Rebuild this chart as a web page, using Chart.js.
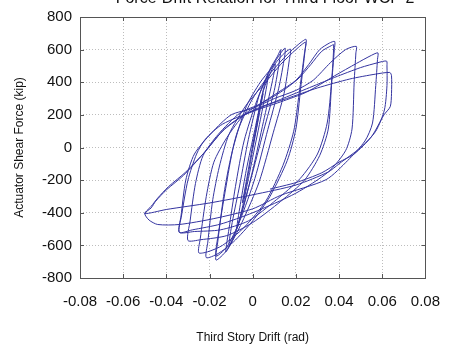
<!DOCTYPE html>
<html><head><meta charset="utf-8">
<script src="https://cdn.jsdelivr.net/npm/chart.js@4"></script>
<style>html,body{margin:0;padding:0;background:#fff;}#wrap{width:455px;height:348px;position:relative;}</style>
</head><body><div id="wrap"><canvas id="c" width="455" height="348"></canvas></div>
<script>
const chartTitle = 'Force-Drift Relation for Third Floor WCP 2';
const xAxisTitle = 'Third Story Drift (rad)';
const yAxisTitle = 'Actuator Shear Force (kip)';
const xTickLabels = ['-0.08','-0.06','-0.04','-0.02','0','0.02','0.04','0.06','0.08'];
const yTickLabels = ['-800','-600','-400','-200','0','200','400','600','800'];

// [drift (rad), shear force (kip)] read along the recorded path, cycle by cycle
const cycle01 = [[0,0],[0.002,140],[0.004,290],[0.0048,330],[0.003,200],[0.0,-10],[-0.002,-160],[-0.004,-300],[-0.0048,-340],[-0.003,-210],[-0.001,-60]];
const cycle02 = [[0.002,160],[0.005,360],[0.007,440],[0.0068,400],[0.004,200],[0.0,-60],[-0.004,-320],[-0.0068,-480],[-0.0075,-500],[-0.0055,-330],[-0.003,-140]];
const cycle03 = [[0.001,110],[0.005,350],[0.009,480],[0.0105,510],[0.009,400],[0.005,160],[0.0,-140],[-0.005,-400],[-0.009,-560],[-0.011,-600],[-0.0095,-460],[-0.006,-230]];
const cycle04 = [[-0.002,50],[0.003,320],[0.008,480],[0.0115,560],[0.013,600],[0.0125,540],[0.010,350],[0.005,100],[-0.001,-200],[-0.007,-480],[-0.011,-610],[-0.0125,-640],[-0.011,-500],[-0.008,-240]];
const cycle05 = [[-0.004,40],[0.002,290],[0.008,470],[0.012,560],[0.015,610],[0.0148,560],[0.012,360],[0.007,110],[0.001,-190],[-0.006,-450],[-0.012,-610],[-0.017,-665],[-0.0158,-520],[-0.0125,-250]];
const cycle06 = [[-0.009,0],[-0.003,250],[0.0035,400],[0.0085,483],[0.014,570],[0.0175,603],[0.017,540],[0.0145,330],[0.0095,90],[0.003,-210],[-0.005,-460],[-0.012,-630],[-0.017,-690],[-0.0162,-580],[-0.0135,-300],[-0.011,-115]];
const cycle07 = [[-0.007,100],[0.0,300],[0.0085,460],[0.016,570],[0.021,630],[0.0247,663],[0.0243,600],[0.0222,360],[0.020,113],[0.016,-80],[0.008,-300],[0.0,-450],[-0.009,-580],[-0.016,-650],[-0.0215,-675],[-0.0208,-580],[-0.0185,-320],[-0.0155,-120]];
const cycle08 = [[-0.011,80],[-0.003,260],[0.006,400],[0.013,510],[0.02,600],[0.0245,645],[0.024,580],[0.0215,330],[0.019,100],[0.014,-110],[0.006,-330],[-0.004,-490],[-0.014,-600],[-0.021,-640],[-0.025,-645],[-0.0243,-560],[-0.0215,-300],[-0.018,-90]];
const cycle09 = [[-0.012,60],[-0.004,200],[0.005,280],[0.012,340],[0.02,412],[0.026,510],[0.031,600],[0.0355,640],[0.038,650],[0.0378,600],[0.0365,380],[0.035,113],[0.031,-50],[0.024,-200],[0.013,-330],[0.0,-460],[-0.012,-540],[-0.024,-565],[-0.030,-570],[-0.029,-450],[-0.0265,-220],[-0.023,-50]];
const cycle10 = [[-0.016,80],[-0.006,210],[0.004,270],[0.013,340],[0.021,420],[0.027,510],[0.032,590],[0.0365,625],[0.0375,630],[0.0365,400],[0.0345,150],[0.030,-40],[0.022,-190],[0.011,-320],[-0.002,-450],[-0.015,-505],[-0.027,-515],[-0.034,-520],[-0.0332,-420],[-0.031,-200],[-0.027,-40]];
const cycle11 = [[-0.019,90],[-0.01,200],[0.0,240],[0.01,300],[0.02,350],[0.028,412],[0.036,520],[0.043,600],[0.048,620],[0.0478,580],[0.047,400],[0.046,113],[0.043,-20],[0.035,-150],[0.02,-280],[0.0,-400],[-0.015,-470],[-0.028,-505],[-0.034,-520],[-0.033,-420],[-0.030,-200],[-0.026,-40]];
const cycle12 = [[-0.022,50],[-0.014,143],[0.0,221],[0.013,280],[0.025,340],[0.038,440],[0.048,515],[0.055,565],[0.058,580],[0.0578,540],[0.057,380],[0.0555,150],[0.052,40],[0.044,-80],[0.034,-197],[0.013,-293],[0.0,-376],[-0.018,-436],[-0.034,-472],[-0.044,-472],[-0.048,-445],[-0.050,-405]];
const cycle13 = [[-0.047,-370],[-0.045,-330],[-0.04,-260],[-0.032,-170],[-0.023,-40],[-0.014,100],[-0.005,190],[0.003,240],[0.0157,310],[0.025,360],[0.038,430],[0.05,490],[0.058,520],[0.062,530],[0.0622,500],[0.0622,380],[0.061,230],[0.057,100],[0.05,0],[0.04,-100],[0.035,-150],[0.02,-230],[0.0,-290],[-0.02,-340],[-0.04,-380],[-0.050,-405]];
const cycle14 = [[-0.047,-360],[-0.044,-310],[-0.039,-240],[-0.031,-150],[-0.022,-25],[-0.013,115],[-0.004,200],[0.004,250],[0.0157,300],[0.03,365],[0.045,420],[0.057,450],[0.0635,460],[0.0643,440],[0.0643,330],[0.0637,250],[0.0608,200],[0.055,66],[0.047,-40],[0.04,-90],[0.032,-155],[0.02,-215],[0.008,-255]];

const cycles = [cycle01,cycle02,cycle03,cycle04,cycle05,cycle06,cycle07,cycle08,cycle09,cycle10,cycle11,cycle12,cycle13,cycle14];
const points = [];
cycles.forEach(c => c.forEach(p => points.push({x: p[0], y: p[1]})));

const FONT = 'Liberation Sans, Arial, sans-serif';

const framePlugin = {
  id: 'frame',
  afterDraw(chart) {
    const {ctx, chartArea: a, scales} = chart;
    ctx.save();
    ctx.strokeStyle = '#555';
    ctx.lineWidth = 1;
    ctx.strokeRect(Math.round(a.left) + 0.5, Math.round(a.top) + 0.5, Math.round(a.right - a.left), Math.round(a.bottom - a.top));
    ctx.beginPath();
    scales.x.ticks.forEach(t => {
      const px = Math.round(scales.x.getPixelForValue(t.value)) + 0.5;
      ctx.moveTo(px, a.top); ctx.lineTo(px, a.top + 4);
      ctx.moveTo(px, a.bottom); ctx.lineTo(px, a.bottom - 4);
    });
    scales.y.ticks.forEach(t => {
      const py = Math.round(scales.y.getPixelForValue(t.value)) + 0.5;
      ctx.moveTo(a.left, py); ctx.lineTo(a.left + 4, py);
      ctx.moveTo(a.right, py); ctx.lineTo(a.right - 4, py);
    });
    ctx.stroke();
    ctx.fillStyle = '#111';
    ctx.font = '16px ' + FONT;
    ctx.textAlign = 'center';
    ctx.textBaseline = 'alphabetic';
    ctx.fillText(chartTitle, 265, 3);
    ctx.restore();
  }
};

new Chart(document.getElementById('c'), {
  type: 'scatter',
  data: { datasets: [{
    data: points,
    showLine: true,
    tension: 0.25,
    borderColor: 'rgb(52,52,160)',
    borderWidth: 1,
    pointRadius: 0,
    fill: false
  }]},
  options: {
    responsive: false,
    animation: false,
    devicePixelRatio: 1,
    layout: { padding: { left: 0, right: 18, top: 10, bottom: 0 } },
    plugins: { legend: { display: false }, tooltip: { enabled: false } },
    scales: {
      x: {
        type: 'linear', min: -0.08, max: 0.08,
        afterFit: s => { s.height = 70; },
        ticks: { stepSize: 0.02, padding: 15, color: '#111', font: { family: FONT, size: 15 }, maxRotation: 0,
                 callback: (v, i) => xTickLabels[i] },
        grid: { color: '#bdbdbd', drawTicks: false, lineWidth: 1 },
        border: { display: false, dash: [1, 2] },
        title: { display: true, text: xAxisTitle, color: '#111', font: { family: FONT, size: 12 }, padding: { top: 0, bottom: 3 } }
      },
      y: {
        type: 'linear', min: -800, max: 800,
        afterFit: s => { s.width = 80; },
        ticks: { stepSize: 200, padding: 8, color: '#111', font: { family: FONT, size: 15 },
                 callback: (v, i) => yTickLabels[i] },
        grid: { color: '#bdbdbd', drawTicks: false, lineWidth: 1 },
        border: { display: false, dash: [1, 2] },
        title: { display: true, text: yAxisTitle, color: '#111', font: { family: FONT, size: 12 }, padding: { top: 12, bottom: 0 } }
      }
    }
  },
  plugins: [framePlugin]
});
</script></body></html>
